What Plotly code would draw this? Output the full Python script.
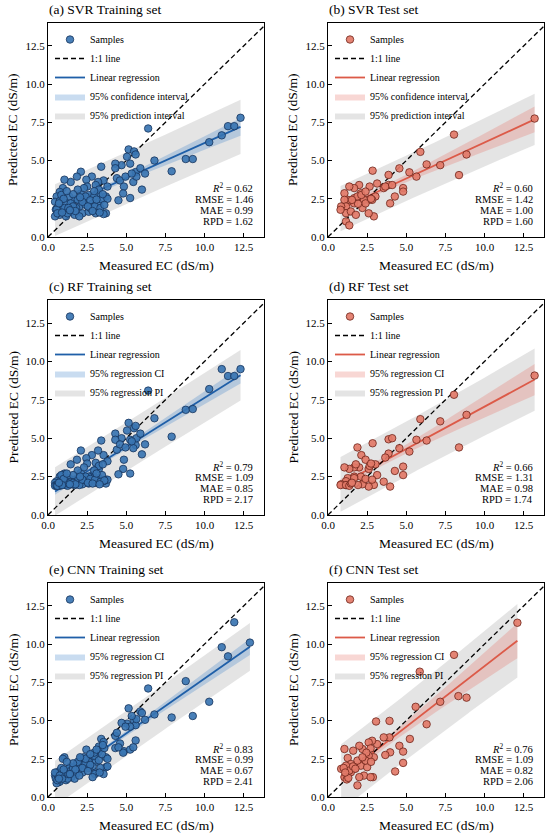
import numpy as np
import plotly.graph_objects as go

# ---- data (measured vs predicted EC, dS/m) ----
x_train = [6.4, 5.15, 5.5, 5.6, 5.05, 5.25, 4.7, 4.3, 4.3, 4.4, 4.6, 4.85, 4.8, 4.5, 5.25, 4.95,
           5.6, 5.45, 5.65, 5.35, 5.9, 6.2, 6.0, 6.8, 7.9, 8.8, 9.25, 10.3, 11.1, 11.5, 11.9,
           3.4, 3.55, 3.2, 2.8, 2.45, 2.1, 1.85, 1.45, 1.05, 0.95,
           0.75, 0.55, 0.45, 0.5, 3.05, 3.25, 3.7, 3.7, 3.55, 2.85,
           2.5, 2.3, 2.0, 1.7, 1.35, 1.15, 0.95, 0.75, 1.15, 1.5,
           1.8, 2.2, 2.6, 3.05, 2.1, 2.6, 2.95, 3.25, 2.3, 1.9,
           1.45, 0.65, 0.45, 0.85, 1.05, 1.6, 2.4, 2.7, 3.25, 3.45,
           2.95, 1.7, 2.0, 1.25, 0.75, 0.55, 0.85, 2.4, 1.9, 3.8,
           3.8, 1.3, 1.6, 2.2, 2.7, 3.0, 3.35, 1.0, 0.6, 1.2,
           2.55, 3.6, 1.75, 2.85, 0.9, 3.1, 1.4, 2.05, 3.3, 0.7,
           3.5, 12.3]
svr_train_pred = [7.1, 5.73, 5.6, 5.4, 5.25, 4.8, 4.7, 4.8, 4.5, 3.85, 3.7, 3.3, 2.85, 2.4, 2.55, 3.95,
                  4.25, 3.6, 3.95, 4.15, 4.5, 4.15, 3.1, 5.0, 4.3, 5.1, 5.1, 6.2, 6.65, 7.25, 7.25,
                  4.6, 3.7, 3.6, 3.95, 3.75, 4.27, 3.95, 3.6, 3.75, 3.2,
                  2.95, 2.65, 2.3, 1.8, 3.4, 2.75, 2.65, 1.55, 1.5, 2.2,
                  3.3, 2.45, 2.0, 2.45, 2.65, 2.2, 1.8, 1.45, 1.35, 1.65,
                  1.9, 1.55, 1.65, 1.55, 2.85, 2.75, 2.65, 3.1, 3.2, 2.45,
                  2.2, 2.0, 1.35, 2.45, 1.9, 2.0, 2.1, 1.9, 2.2, 2.45,
                  3.0, 1.45, 1.35, 1.55, 2.35, 1.8, 2.75, 2.65, 3.1, 2.5,
                  3.3, 1.9, 2.8, 2.3, 2.4, 2.0, 1.9, 2.5, 1.55, 3.0,
                  2.0, 2.1, 1.7, 1.7, 1.6, 2.45, 1.75, 2.6, 1.6, 2.2,
                  2.8, 7.8]
rf_train_pred = [8.1, 6.0, 5.65, 5.8, 5.5, 4.9, 5.0, 5.3, 4.9, 4.25, 4.6, 3.6, 3.0, 2.65, 2.7, 4.4,
                 4.55, 4.35, 5.0, 4.8, 5.3, 4.6, 3.95, 6.3, 5.1, 6.85, 6.9, 8.2, 9.5, 9.05, 9.05,
                 4.85, 3.9, 4.2, 3.9, 3.7, 4.2, 3.6, 3.3, 2.7, 2.6,
                 2.5, 2.2, 2.1, 1.95, 3.4, 3.0, 2.3, 2.05, 2.2, 2.6,
                 3.35, 2.4, 2.1, 2.3, 2.4, 2.2, 2.0, 1.9, 1.95, 2.0,
                 2.1, 2.0, 2.05, 2.1, 2.75, 2.5, 2.45, 3.2, 3.1, 2.4,
                 2.15, 1.95, 1.9, 2.3, 2.0, 2.1, 2.25, 2.2, 2.4, 2.6,
                 2.9, 1.95, 1.95, 1.9, 2.1, 1.9, 2.6, 2.5, 2.9, 2.3,
                 3.5, 2.05, 2.6, 2.3, 2.35, 2.3, 2.15, 2.35, 1.9, 2.7,
                 2.1, 2.25, 2.0, 2.05, 1.95, 2.7, 2.0, 2.5, 2.0, 2.1,
                 3.3, 9.5]
x_train_cnn = [6.4, 5.15, 5.5, 5.6, 5.05, 5.25, 4.7, 4.3, 4.3, 4.4, 4.6, 4.85, 4.8, 4.5, 5.25, 4.95,
               5.6, 5.45, 5.65, 5.35, 5.9, 6.2, 6.0, 6.8, 7.9, 8.8, 9.25, 10.3, 11.1, 11.5, 11.9,
               3.4, 3.55, 3.2, 2.8, 2.45, 2.1, 1.85, 1.45, 1.05, 0.95,
               0.75, 0.55, 0.45, 0.5, 3.05, 3.25, 3.7, 3.7, 3.55, 2.85,
               2.5, 2.3, 2.0, 1.7, 1.35, 1.15, 0.95, 0.75, 1.15, 1.5,
               1.8, 2.2, 2.6, 3.05, 2.1, 2.6, 2.95, 3.25, 2.3, 1.9,
               1.45, 0.65, 0.45, 0.85, 1.05, 1.6, 2.4, 2.7, 3.25, 3.45,
               2.95, 1.7, 2.0, 1.25, 0.75, 0.55, 0.85, 2.4, 1.9, 3.8,
               3.8, 1.3, 1.6, 2.2, 2.7, 3.0, 3.35, 1.0, 0.6, 1.2,
               2.55, 3.6, 1.75, 2.85, 0.9, 3.1, 1.4, 2.05, 3.3, 0.7,
               3.5, 12.9]
cnn_train_pred = [7.1, 5.8, 5.0, 4.7, 4.8, 4.6, 4.85, 4.0, 3.2, 4.2, 3.5, 3.0, 2.9, 3.25, 3.1, 4.6,
                  3.7, 3.25, 5.1, 5.3, 5.6, 5.05, 5.5, 5.4, 5.2, 7.58, 5.3, 6.23, 9.8, 9.2, 11.43,
                  3.8, 3.6, 2.9, 2.6, 3.1, 2.5, 2.2, 2.0, 2.6, 2.5,
                  1.7, 1.6, 1.4, 1.2, 2.3, 3.3, 2.6, 1.95, 1.5, 2.0,
                  2.4, 2.0, 1.8, 1.6, 1.9, 1.4, 1.3, 1.0, 1.1, 1.3,
                  1.5, 1.6, 1.9, 1.6, 2.1, 2.3, 2.7, 3.0, 2.6, 2.0,
                  1.7, 1.3, 1.6, 1.5, 1.6, 1.9, 2.2, 2.1, 2.4, 2.8,
                  2.9, 1.2, 1.4, 1.2, 1.4, 0.9, 1.9, 2.5, 2.3, 2.0,
                  2.5, 1.5, 2.2, 1.9, 2.8, 1.5, 1.9, 1.8, 1.1, 2.3,
                  1.7, 3.2, 1.8, 1.3, 1.2, 3.1, 1.5, 2.6, 1.6, 1.2,
                  3.4, 10.1]

x_test = [13.2, 8.05, 8.85, 8.37, 7.17, 6.3, 5.9, 5.65, 5.2, 4.56, 4.8, 4.8, 3.87, 3.87, 3.97, 4.27,
          3.56, 3.14, 2.85, 3.03, 2.93, 2.6, 2.6, 2.3, 2.2, 2.66, 1.99, 2.1, 1.67, 1.67, 1.36, 1.26,
          1.05, 1.05, 1.15, 1.15, 0.84, 0.8, 1.15, 1.36, 1.46, 1.67, 1.88, 2.13, 2.4, 2.4, 1.92, 1.53,
          2.82, 1.78, 3.66, 2.75, 4.1]
svr_test_pred = [7.75, 6.7, 5.4, 4.05, 4.7, 4.75, 5.57, 3.95, 4.23, 4.49, 3.2, 2.97, 4.06, 3.4, 2.2, 2.65,
                 3.2, 3.5, 4.34, 2.65, 1.35, 1.55, 2.43, 2.43, 1.9, 3.3, 3.4, 2.86, 3.2, 2.54, 3.3, 2.43,
                 2.86, 2.43, 2.0, 1.56, 2.0, 1.78, 1.02, 0.76, 1.67, 2.2, 2.65, 2.75, 2.97, 2.2, 2.17, 2.43,
                 2.43, 1.45, 3.3, 2.5, 3.4]
rf_test_pred = [9.08, 7.83, 6.52, 4.4, 6.1, 4.85, 6.24, 4.9, 4.13, 4.35, 3.15, 2.6, 4.93, 4.0, 1.85, 2.87,
                2.17, 2.6, 4.67, 3.3, 1.96, 1.85, 3.0, 2.3, 2.0, 3.2, 3.1, 2.5, 3.1, 2.5, 3.0, 2.4,
                3.1, 2.0, 2.2, 1.95, 2.0, 1.95, 1.95, 1.9, 2.05, 2.4, 4.4, 3.9, 3.6, 2.35, 1.95, 2.1,
                2.3, 3.3, 3.74, 3.35, 5.0]
x_test_cnn = [12.1, 8.05, 5.86, 8.33, 8.85, 7.17, 5.6, 6.3, 5.23, 4.56, 4.8, 4.8, 4.29, 3.93, 3.07,
              3.93, 3.56, 3.97, 3.66, 3.14, 2.93, 2.82, 2.6, 2.72, 2.6, 2.2, 2.0, 1.61, 1.05, 1.26,
              1.67, 2.3, 2.87, 1.88, 0.84, 1.05, 1.2, 2.0, 1.46, 2.1, 2.5, 2.4, 1.88, 1.46, 1.15,
              2.72, 1.36, 1.3, 1.6, 2.45, 2.2, 1.0, 2.75, 1.75, 1.1]
cnn_test_pred = [11.4, 9.3, 8.2, 6.6, 6.5, 6.23, 5.9, 4.76, 3.8, 3.35, 2.97, 2.23, 1.67, 4.98, 4.94,
                 3.9, 3.9, 2.92, 2.75, 3.46, 2.6, 3.68, 3.57, 3.18, 2.7, 3.14, 3.35, 3.03, 3.14, 2.55,
                 1.84, 1.4, 1.3, 0.76, 1.84, 1.3, 1.15, 1.3, 1.62, 2.05, 1.95, 2.38, 2.38, 2.16, 2.05,
                 1.3, 1.73, 1.25, 2.0, 2.9, 2.6, 1.9, 2.3, 1.85, 1.6]

panel_titles = ["(a) SVR Training set", "(b) SVR Test set", "(c) RF Training set",
                "(d) RF Test set", "(e) CNN Training set", "(f) CNN Test set"]
r2_vals = ["0.62", "0.60", "0.79", "0.66", "0.83", "0.76"]
rmse_vals = ["1.46", "1.42", "1.09", "1.31", "0.99", "1.09"]
mae_vals = ["0.99", "1.00", "0.85", "0.98", "0.67", "0.82"]
rpd_vals = ["1.62", "1.60", "2.17", "1.74", "2.41", "2.06"]
ci_labels = ["95% confidence interval", "95% confidence interval", "95% regression CI",
             "95% regression CI", "95% regression CI", "95% regression CI"]
pi_labels = ["95% prediction interval", "95% prediction interval", "95% regression PI",
             "95% regression PI", "95% regression PI", "95% regression PI"]
tick_vals = [0, 2.5, 5, 7.5, 10, 12.5]
x_range = [0, 13.8]
y_range = [0, 14]

xs = [x_train, x_test, x_train, x_test, x_train_cnn, x_test_cnn]
ys = [svr_train_pred, svr_test_pred, rf_train_pred, rf_test_pred, cnn_train_pred, cnn_test_pred]

# ---- styling ----
W, H = 550, 836
FONT = "Liberation Serif"
BLUE = dict(fill="rgba(58,117,178,0.92)", edge="#17335c", line="#1f5fa8",
            ci="rgba(60,130,200,0.28)")
RED = dict(fill="rgba(226,122,104,0.92)", edge="#6e241a", line="#dc5a48",
           ci="rgba(230,110,100,0.28)")
PI_COL = "rgba(185,185,185,0.38)"

cols = [(48, 264), (328, 544)]
rows = [(23, 237), (300, 515), (583, 797)]


def px(v):
    return v / W


def py(v):
    return 1 - v / H


def fit_bands(x, y):
    x = np.asarray(x, float)
    y = np.asarray(y, float)
    n = len(x)
    b1, b0 = np.polyfit(x, y, 1)
    s = np.sqrt(np.sum((y - (b0 + b1 * x)) ** 2) / (n - 2))
    xm = x.mean()
    sxx = np.sum((x - xm) ** 2)
    z = 1.959964
    t = z + (z ** 3 + z) / (4 * (n - 2))
    xg = np.linspace(x.min(), x.max(), 120)
    yg = b0 + b1 * xg
    ci = t * s * np.sqrt(1 / n + (xg - xm) ** 2 / sxx)
    pi = t * s * np.sqrt(1 + 1 / n + (xg - xm) ** 2 / sxx)
    return xg, yg, ci, pi


fig = go.Figure()
annotations = []
layout = {}

for i in range(6):
    r, c = divmod(i, 2)
    l, rr = cols[c]
    t, b = rows[r]
    k = "" if i == 0 else str(i + 1)
    xa, ya, lg = "x" + k, "y" + k, "legend" + k
    pal = BLUE if c == 0 else RED
    xg, yg, ci, pi = fit_bands(xs[i], ys[i])

    common = dict(xaxis=xa, yaxis=ya, legend=lg, hoverinfo="skip")
    fig.add_trace(go.Scatter(x=xg, y=yg - pi, mode="lines", line=dict(width=0, color=PI_COL),
                             showlegend=False, **common))
    fig.add_trace(go.Scatter(x=xg, y=yg + pi, mode="lines", fill="tonexty", fillcolor=PI_COL,
                             line=dict(width=0, color=PI_COL), name=pi_labels[i],
                             legendrank=5, **common))
    fig.add_trace(go.Scatter(x=xg, y=yg - ci, mode="lines", line=dict(width=0, color=pal["ci"]),
                             showlegend=False, **common))
    fig.add_trace(go.Scatter(x=xg, y=yg + ci, mode="lines", fill="tonexty", fillcolor=pal["ci"],
                             line=dict(width=0, color=pal["ci"]), name=ci_labels[i],
                             legendrank=4, **common))
    fig.add_trace(go.Scatter(x=xg, y=yg, mode="lines", line=dict(width=1.8, color=pal["line"]),
                             name="Linear regression", legendrank=3, **common))
    fig.add_trace(go.Scatter(x=y_range, y=y_range, mode="lines",
                             line=dict(width=1.3, color="black", dash="5px,3px"),
                             name="1:1 line", legendrank=2, **common))
    fig.add_trace(go.Scatter(x=xs[i], y=ys[i], mode="markers", name="Samples", legendrank=1,
                             marker=dict(size=7.5, color=pal["fill"],
                                         line=dict(width=0.8, color=pal["edge"])),
                             **common))

    axis_common = dict(tickvals=tick_vals, tickformat=".1f", ticks="inside",
                       ticklen=4, tickwidth=1, tickcolor="black", showline=True, mirror=True,
                       linecolor="black", linewidth=1, showgrid=False, zeroline=False,
                       automargin=False, tickfont=dict(family=FONT, size=11, color="black"))
    layout["xaxis" + k] = dict(axis_common, range=x_range, domain=[px(l), px(rr)], anchor=ya)
    layout["yaxis" + k] = dict(axis_common, range=y_range, domain=[py(b), py(t)], anchor=xa)
    layout[lg] = dict(x=px(l + 2), y=py(t + 2), xanchor="left", yanchor="top",
                      bgcolor="rgba(0,0,0,0)", traceorder="normal", itemwidth=30,
                      tracegroupgap=0, font=dict(family=FONT, size=10, color="black"))

    annotations.append(dict(text=panel_titles[i], x=px(l - 1), y=py(t - 4), xref="paper",
                            yref="paper", xanchor="left", yanchor="bottom", showarrow=False,
                            font=dict(family=FONT, size=13.5, color="black")))
    annotations.append(dict(text="Measured EC (dS/m)", x=px((l + rr) / 2), y=py(b + 28),
                            xref="paper", yref="paper", xanchor="center", yanchor="middle",
                            showarrow=False, font=dict(family=FONT, size=13.5, color="black")))
    annotations.append(dict(text="Predicted EC (dS/m)", x=px(l - 35), y=py((t + b) / 2),
                            xref="paper", yref="paper", xanchor="center", yanchor="middle",
                            textangle=-90, showarrow=False,
                            font=dict(family=FONT, size=13.5, color="black")))
    stats = ["<i>R</i><sup>2</sup> = " + r2_vals[i], "RMSE = " + rmse_vals[i],
             "MAE = " + mae_vals[i], "RPD = " + rpd_vals[i]]
    for j, s in enumerate(stats):
        annotations.append(dict(text=s, x=px(rr - 9), y=py(b - 49 + 11.3 * j), xref="paper",
                                yref="paper", xanchor="right", yanchor="middle",
                                showarrow=False,
                                font=dict(family=FONT, size=10.5, color="black")))

fig.update_layout(width=W, height=H, margin=dict(l=0, r=0, t=0, b=0),
                  paper_bgcolor="white", plot_bgcolor="white",
                  font=dict(family=FONT, color="black"), annotations=annotations, **layout)

# drop the browser's default page margin so the 550x836 figure fills the window
fig.write_html("out.html", config={"displayModeBar": False},
               post_script="document.body.style.margin='0';document.body.style.overflow='hidden';")
